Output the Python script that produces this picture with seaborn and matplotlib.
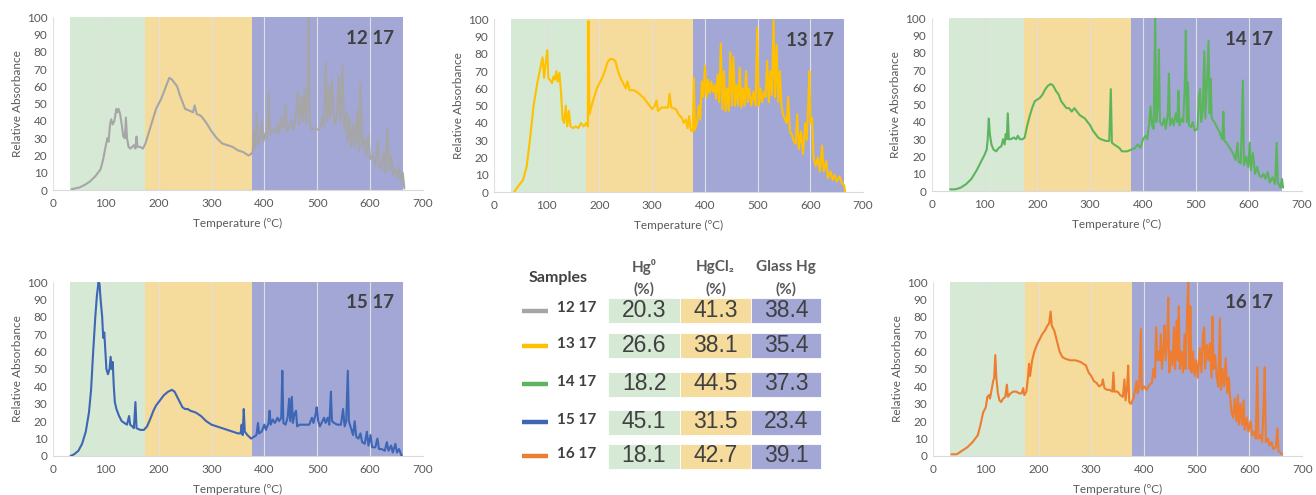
import numpy as np
import pandas as pd
import matplotlib
matplotlib.use("Agg")
import matplotlib.pyplot as plt
import seaborn as sns

# ---- thermal desorption curves (temperature ºC, relative absorbance) ----
t_1217 = [35, 50, 60, 70, 80, 90, 95, 100, 103, 105, 108, 110, 113, 116, 120, 122, 124, 127, 130, 133,
          136, 138, 140, 143, 146, 150, 153, 156, 158, 160, 165, 170, 175, 180, 185, 190, 195, 200, 205, 210,
          215, 220, 225, 230, 235, 240, 245, 250, 258, 265, 268, 272, 280, 290, 300, 310, 320, 330, 340, 350,
          360, 365, 370, 375, 378, 380, 382, 385, 388, 392, 395, 398, 402, 405, 408, 411, 415, 420, 425, 428,
          432, 436, 440, 443, 448, 452, 456, 460, 463, 466, 470, 473, 476, 479, 482, 484, 486, 490, 495, 500,
          505, 510, 513, 516, 519, 522, 525, 528, 531, 534, 538, 541, 544, 548, 551, 555, 558, 561, 565, 568,
          572, 576, 579, 582, 585, 590, 593, 597, 600, 605, 610, 615, 618, 622, 626, 629, 633, 636, 640, 643,
          648, 652, 655, 658, 662, 665]
a_1217 = [0.5, 1.5, 3, 5, 8, 12, 18, 26, 30, 28, 38, 41, 38, 40, 47, 45, 47, 44, 38, 31,
          30, 42, 30, 25, 24, 25, 26, 24, 31, 25, 25, 24, 27, 32, 37, 42, 47, 50, 53, 57,
          61, 65, 64, 62, 60, 55, 51, 47, 46, 45, 49, 44, 43, 39, 34, 30, 27, 26, 25, 23,
          22, 21, 20, 21, 22, 34, 24, 44, 26, 30, 40, 28, 33, 30, 56, 32, 35, 33, 38, 33,
          42, 36, 49, 34, 37, 40, 35, 44, 57, 38, 54, 40, 58, 38, 60, 100, 38, 35, 36, 35,
          35, 42, 37, 74, 40, 60, 42, 64, 45, 38, 45, 66, 40, 72, 35, 45, 28, 42, 25, 38,
          25, 46, 22, 62, 25, 30, 20, 32, 18, 20, 14, 28, 14, 12, 22, 10, 36, 12, 20, 9,
          12, 7, 13, 5, 10, 1]

t_1317 = [38, 45, 55, 62, 68, 75, 82, 88, 92, 95, 98, 101, 103, 106, 110, 113, 116, 118, 121, 124,
          127, 130, 133, 136, 139, 142, 145, 150, 155, 160, 165, 170, 175, 178, 179, 181, 185, 190, 195, 200,
          205, 210, 215, 220, 225, 230, 235, 240, 245, 250, 253, 257, 265, 275, 285, 295, 300, 305, 308, 311,
          318, 325, 330, 333, 336, 345, 350, 356, 360, 364, 367, 370, 373, 377, 379, 381, 385, 388, 391, 394,
          397, 400, 403, 406, 409, 412, 415, 418, 421, 424, 427, 430, 433, 436, 439, 442, 445, 448, 451, 454,
          457, 460, 463, 466, 469, 472, 475, 478, 481, 484, 488, 492, 496, 499, 502, 505, 508, 512, 515, 518,
          521, 524, 527, 530, 533, 536, 539, 542, 545, 548, 552, 555, 558, 561, 565, 568, 572, 575, 578, 582,
          586, 590, 593, 596, 598, 600, 603, 606, 610, 614, 618, 622, 625, 630, 633, 638, 642, 646, 650, 655,
          660, 664, 666]
a_1317 = [0, 3, 7, 15, 30, 50, 63, 72, 78, 66, 75, 82, 66, 65, 63, 67, 65, 70, 64, 69,
          58, 42, 40, 50, 38, 47, 38, 37, 38, 37, 40, 38, 40, 38, 99, 45, 50, 55, 60, 63,
          66, 70, 75, 77, 77, 76, 70, 66, 63, 60, 64, 59, 59, 57, 54, 50, 48, 50, 53, 47,
          49, 49, 49, 57, 49, 48, 45, 43, 40, 42, 37, 44, 36, 35, 66, 36, 40, 50, 42, 64,
          55, 73, 55, 65, 57, 64, 58, 62, 54, 68, 52, 86, 48, 70, 47, 60, 47, 81, 50, 78,
          50, 62, 50, 72, 49, 60, 50, 70, 52, 60, 50, 58, 50, 95, 50, 60, 52, 58, 55, 76,
          52, 70, 56, 100, 55, 85, 52, 70, 50, 45, 42, 40, 55, 35, 33, 30, 28, 45, 25, 35,
          22, 40, 30, 52, 70, 40, 43, 20, 15, 20, 12, 27, 12, 18, 8, 12, 7, 10, 6, 9,
          5, 4, 0]

t_1417 = [35, 45, 55, 65, 75, 85, 95, 100, 104, 106, 108, 110, 113, 117, 122, 127, 132, 135, 138, 140,
          142, 144, 146, 150, 155, 160, 163, 167, 172, 176, 180, 185, 190, 195, 200, 205, 210, 215, 220, 225,
          230, 235, 240, 245, 250, 255, 260, 265, 270, 275, 280, 290, 300, 305, 310, 315, 320, 330, 336, 339,
          341, 345, 350, 355, 360, 370, 378, 385, 390, 395, 400, 405, 408, 412, 414, 417, 420, 423, 425, 428,
          430, 432, 436, 440, 443, 447, 449, 451, 455, 458, 462, 465, 467, 469, 473, 476, 479, 481, 483, 485,
          487, 491, 494, 498, 503, 506, 508, 510, 513, 516, 518, 521, 524, 526, 528, 530, 535, 540, 545, 550,
          552, 554, 558, 562, 566, 570, 575, 579, 581, 585, 589, 591, 595, 599, 602, 604, 608, 612, 616, 620,
          624, 628, 632, 636, 640, 645, 650, 653, 655, 660, 663, 665]
a_1417 = [1, 1, 2, 4, 7, 12, 18, 21, 24, 30, 42, 33, 27, 24, 23, 25, 26, 30, 27, 33,
          30, 45, 30, 30, 31, 30, 32, 30, 30, 31, 37, 43, 48, 52, 53, 54, 56, 59, 61, 62,
          61, 58, 56, 52, 50, 48, 48, 46, 48, 46, 44, 42, 38, 35, 33, 31, 30, 29, 29, 59,
          28, 27, 26, 25, 23, 23, 24, 25, 27, 25, 30, 32, 30, 40, 49, 38, 36, 100, 40, 50,
          82, 40, 38, 42, 36, 45, 68, 38, 42, 38, 45, 40, 58, 38, 42, 40, 60, 93, 40, 63,
          38, 37, 40, 35, 36, 55, 59, 40, 46, 81, 42, 62, 87, 45, 65, 42, 40, 37, 34, 30,
          46, 29, 28, 26, 24, 22, 18, 28, 17, 16, 64, 15, 20, 14, 28, 12, 22, 10, 14, 9,
          8, 10, 7, 11, 5, 8, 4, 28, 5, 2, 7, 2]

t_1517 = [33, 40, 48, 55, 62, 68, 72, 76, 80, 83, 86, 88, 90, 93, 95, 97, 99, 101, 104, 107,
          109, 111, 113, 115, 117, 120, 125, 130, 135, 140, 144, 146, 150, 153, 156, 158, 165, 172, 178, 185,
          190, 195, 200, 210, 218, 225, 230, 235, 240, 245, 250, 255, 260, 270, 280, 290, 300, 310, 320, 330,
          340, 350, 355, 357, 359, 361, 363, 368, 375, 380, 385, 388, 390, 395, 400, 403, 408, 410, 412, 416,
          420, 425, 428, 432, 434, 436, 440, 444, 447, 449, 452, 454, 457, 460, 462, 467, 475, 485, 490, 493,
          497, 499, 502, 505, 510, 513, 516, 520, 523, 526, 528, 532, 538, 545, 549, 552, 555, 558, 560, 564,
          568, 571, 574, 578, 582, 585, 590, 594, 597, 601, 604, 610, 614, 617, 622, 628, 632, 635, 640, 643,
          648, 651, 655, 660]
a_1517 = [0, 1, 3, 7, 14, 25, 38, 60, 80, 92, 100, 99, 90, 80, 68, 71, 60, 50, 47, 50,
          57, 50, 54, 40, 31, 27, 23, 20, 19, 18, 23, 18, 17, 16, 31, 16, 15, 15, 17, 22,
          26, 29, 31, 35, 37, 38, 37, 34, 31, 28, 27, 27, 26, 25, 23, 20, 18, 17, 16, 15,
          14, 13, 13, 18, 12, 27, 14, 12, 10, 11, 12, 19, 13, 14, 18, 15, 19, 26, 18, 21,
          19, 22, 20, 22, 49, 19, 18, 22, 33, 20, 34, 19, 24, 26, 17, 18, 18, 18, 22, 19,
          24, 28, 20, 17, 20, 22, 19, 22, 18, 37, 20, 19, 18, 18, 27, 17, 20, 49, 20, 16,
          12, 20, 11, 10, 13, 8, 7, 14, 6, 12, 5, 5, 10, 4, 4, 3, 8, 3, 6, 2,
          7, 2, 4, 0]

t_1617 = [35, 45, 55, 65, 75, 85, 90, 95, 100, 103, 106, 108, 111, 114, 116, 118, 120, 123, 126, 129,
          133, 137, 140, 142, 147, 152, 158, 163, 168, 171, 173, 177, 180, 182, 184, 188, 192, 197, 202, 207,
          212, 217, 220, 223, 225, 230, 235, 240, 245, 250, 260, 270, 280, 285, 290, 295, 300, 305, 310, 315,
          320, 322, 325, 330, 335, 340, 342, 344, 350, 355, 360, 363, 365, 368, 370, 372, 375, 380, 383, 386,
          388, 391, 394, 396, 400, 405, 410, 415, 418, 421, 423, 425, 428, 430, 432, 434, 437, 439, 441, 444,
          446, 448, 451, 454, 457, 459, 462, 464, 466, 468, 471, 474, 477, 479, 482, 484, 486, 488, 490, 493,
          496, 499, 502, 506, 509, 512, 514, 516, 519, 522, 525, 528, 530, 532, 535, 538, 541, 544, 546, 549,
          552, 555, 558, 561, 563, 566, 569, 572, 575, 578, 580, 583, 586, 589, 591, 595, 598, 602, 605, 609,
          612, 615, 617, 621, 624, 627, 629, 631, 635, 638, 642, 645, 650, 653, 655, 658, 662]
a_1617 = [1, 1, 3, 5, 8, 12, 18, 25, 28, 34, 35, 33, 38, 43, 45, 58, 45, 36, 32, 31,
          33, 34, 41, 34, 36, 37, 37, 36, 36, 39, 35, 37, 45, 53, 46, 55, 60, 64, 67, 70,
          72, 75, 76, 83, 75, 72, 66, 60, 57, 56, 55, 55, 54, 53, 52, 48, 46, 43, 42, 40,
          41, 44, 39, 38, 38, 37, 48, 37, 37, 35, 34, 44, 32, 39, 52, 31, 30, 33, 38, 43,
          36, 40, 73, 38, 40, 38, 41, 42, 50, 45, 74, 55, 60, 55, 70, 50, 62, 75, 55, 65,
          91, 48, 60, 52, 74, 50, 78, 55, 86, 50, 60, 48, 70, 50, 85, 100, 50, 86, 48, 60,
          46, 55, 45, 62, 48, 70, 74, 50, 64, 55, 65, 45, 80, 50, 58, 45, 40, 79, 38, 50,
          40, 56, 36, 45, 35, 25, 22, 33, 20, 35, 18, 30, 18, 32, 15, 22, 14, 20, 12, 14,
          10, 51, 10, 12, 8, 30, 51, 8, 10, 6, 8, 4, 5, 16, 3, 2, 1]

samples = ["12 17", "13 17", "14 17", "15 17", "16 17"]
temps = [t_1217, t_1317, t_1417, t_1517, t_1617]
absorb = [a_1217, a_1317, a_1417, a_1517, a_1617]
line_colors = ["#a6a6a6", "#ffc000", "#5cb55c", "#3d66b5", "#ed7d31"]

# Hg species fractions (%)
hg0 = [20.3, 26.6, 18.2, 45.1, 18.1]
hgcl2 = [41.3, 38.1, 44.5, 31.5, 42.7]
glass_hg = [38.4, 35.4, 37.3, 23.4, 39.1]

# temperature windows: Hg0 / HgCl2 / glass Hg
zone_edges = [33, 174, 377, 663]
zone_colors = ["#d6e9d5", "#f5db9c", "#a3a7d6"]

sns.set_style("white")
plt.rcParams['font.family'] = ['Lato', 'DejaVu Sans']

fig = plt.figure(figsize=(13.16, 4.95), dpi=100)

# axes rectangles in figure fractions (left, bottom, width, height)
rects = [[0.0403, 0.616, 0.281, 0.349],
         [0.3754, 0.612, 0.2805, 0.349],
         [0.708, 0.614, 0.281, 0.349],
         [0.0403, 0.0788, 0.281, 0.3515],
         [0.709, 0.0788, 0.2805, 0.3515]]

for i, name in enumerate(samples):
    ax = fig.add_axes(rects[i])
    for j in range(3):
        ax.axvspan(zone_edges[j], zone_edges[j + 1], color=zone_colors[j], lw=0, zorder=0)
    df = pd.DataFrame({"T": temps[i], "A": absorb[i]})
    sns.lineplot(data=df, x="T", y="A", ax=ax, color=line_colors[i], lw=1.5,
                 estimator=None, zorder=3)
    ax.set_xlim(0, 700)
    ax.set_ylim(0, 100)
    ax.set_xticks(range(0, 701, 100))
    ax.set_yticks(range(0, 101, 10))
    ax.grid(axis='x', color='#e0e0e0', lw=0.8)
    ax.set_axisbelow(True)
    ax.tick_params(labelsize=8.5, colors='#595959', length=0)
    ax.tick_params(axis='x', pad=6)
    ax.tick_params(axis='y', pad=4)
    for s in ['top', 'right', 'left']:
        ax.spines[s].set_visible(False)
    ax.spines['bottom'].set_color('#d9d9d9')
    ax.set_xlabel("Temperature (ºC)", fontsize=8.5, color='#595959', labelpad=6)
    ax.set_ylabel("Relative Absorbance", fontsize=8.5, color='#595959', labelpad=3)
    ax.text(600, 88, name, fontsize=13.5, fontweight='bold', color='#404040',
            ha='center', va='center', zorder=4)

# ---- summary table in the middle of the bottom row ----
tab = fig.add_axes([0, 0, 1, 1])
tab.set_xlim(0, 1316)
tab.set_ylim(495, 0)
tab.axis('off')

col_x = [[608, 680], [680, 751], [751, 821]]
row_y = [310.5, 345.5, 384, 422, 456]
cell_h = 25

tab.text(558, 278, "Samples", fontsize=11.5, fontweight='bold', color='#404040',
         ha='center', va='center')
headers = ["Hg⁰", "HgCl₂", "Glass Hg"]
for k, h in enumerate(headers):
    cx = (col_x[k][0] + col_x[k][1]) / 2
    tab.text(cx, 267, h, fontsize=11, fontweight='bold', color='#595959', ha='center', va='center')
    tab.text(cx, 289, "(%)", fontsize=11, fontweight='bold', color='#595959', ha='center', va='center')

for r in range(len(samples)):
    y = row_y[r]
    tab.plot([522, 548], [y, y], color=line_colors[r], lw=3.2, solid_capstyle='butt')
    tab.text(557, y - 2, samples[r], fontsize=11, fontweight='bold', color='#404040',
             ha='left', va='center')
    vals = [hg0[r], hgcl2[r], glass_hg[r]]
    for k in range(3):
        x0, x1 = col_x[k]
        tab.add_patch(plt.Rectangle((x0, y - cell_h / 2), x1 - x0, cell_h,
                                    facecolor=zone_colors[k], edgecolor='white', lw=0.6))
        tab.text((x0 + x1) / 2, y, f"{vals[k]:.1f}", fontsize=16.5, color='#404040',
                 family=['Liberation Sans', 'DejaVu Sans'], ha='center', va='center')

fig.savefig("out.png", dpi=100)
